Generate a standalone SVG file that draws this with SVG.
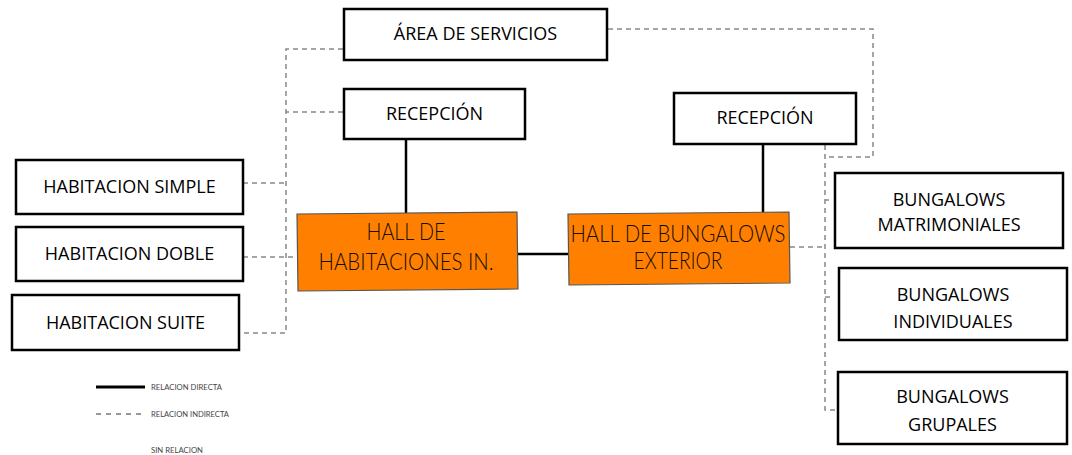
<svg xmlns="http://www.w3.org/2000/svg" width="1072" height="455" viewBox="0 0 1072 455">
<style>
.box{fill:#fff;stroke:#000;stroke-width:2.5}
.hall{fill:#ff8000;stroke:#555;stroke-width:1.2}
.t{font-family:"Open Sans","Liberation Sans",sans-serif;font-size:18px;fill:#000;text-anchor:middle}
.ht{font-family:"Lato","Liberation Sans",sans-serif;font-size:24px;fill:#140c00;text-anchor:middle;font-weight:300}
.solid{stroke:#000;stroke-width:2.5;fill:none}
.dash{stroke:#888;stroke-width:1.5;fill:none;stroke-dasharray:5 4}
.lg{font-family:"Lato","Liberation Sans",sans-serif;font-size:7px;fill:#444}
</style>
<rect width="1072" height="455" fill="#fff"/>
<g id="connectors">
<path class="dash" d="M343,49 H286 V333 H239"/>
<path class="dash" d="M343,112 H286"/>
<path class="dash" d="M243,183 H286"/>
<path class="dash" d="M243,257 H297"/>
<path class="dash" d="M608,29 H873 V157 H825"/>
<path class="dash" d="M825,145 V410 H838"/>
<path class="dash" d="M790,247 H825"/>
<path class="dash" d="M825,200 H829"/>
<path class="dash" d="M825,297 H830"/>
<line class="solid" x1="406" y1="139" x2="406" y2="213"/>
<line class="solid" x1="763" y1="144" x2="763" y2="213"/>
<line class="solid" x1="518" y1="254" x2="568" y2="254"/>
</g>
<g id="area-servicios"><rect class="box" x="344" y="9" width="263" height="51"/><text class="t" x="475.5" y="40">ÁREA DE SERVICIOS</text></g>
<g id="recepcion-1"><rect class="box" x="344" y="89" width="181" height="50"/><text class="t" x="434.5" y="120">RECEPCIÓN</text></g>
<g id="recepcion-2"><rect class="box" x="674" y="93" width="182" height="51"/><text class="t" x="765" y="124">RECEPCIÓN</text></g>
<g id="hab-simple"><rect class="box" x="16" y="160" width="227" height="54"/><text class="t" x="129.5" y="193">HABITACION SIMPLE</text></g>
<g id="hab-doble"><rect class="box" x="16" y="227" width="227" height="54"/><text class="t" x="129.5" y="260">HABITACION DOBLE</text></g>
<g id="hab-suite"><rect class="box" x="12" y="295" width="227" height="55"/><text class="t" x="125.5" y="329">HABITACION SUITE</text></g>
<g id="hall-habitaciones"><path class="hall" d="M297,214 L517,212 L518,289 L298,291 Z"/><text class="ht" x="406" y="240" textLength="79" lengthAdjust="spacingAndGlyphs">HALL DE</text><text class="ht" x="406" y="270" textLength="175" lengthAdjust="spacingAndGlyphs">HABITACIONES IN.</text></g>
<g id="hall-bungalows"><path class="hall" d="M568,214 L789,212 L790,283 L569,285 Z"/><text class="ht" x="678" y="242" textLength="215" lengthAdjust="spacingAndGlyphs">HALL DE BUNGALOWS</text><text class="ht" x="678" y="269" textLength="89" lengthAdjust="spacingAndGlyphs">EXTERIOR</text></g>
<g id="bung-matrimoniales"><rect class="box" x="835" y="173" width="228" height="75"/><text class="t" x="949" y="206">BUNGALOWS</text><text class="t" x="949" y="231">MATRIMONIALES</text></g>
<g id="bung-individuales"><rect class="box" x="839" y="268" width="228" height="72"/><text class="t" x="953" y="301">BUNGALOWS</text><text class="t" x="953" y="328">INDIVIDUALES</text></g>
<g id="bung-grupales"><rect class="box" x="838" y="372" width="229" height="72"/><text class="t" x="952.5" y="403">BUNGALOWS</text><text class="t" x="952.5" y="431">GRUPALES</text></g>
<g id="legend">
<line x1="96" y1="387" x2="145" y2="387" stroke="#000" stroke-width="3"/>
<text class="lg" x="151" y="390" textLength="71" lengthAdjust="spacingAndGlyphs">RELACION DIRECTA</text>
<line x1="96" y1="414" x2="145" y2="414" stroke="#777" stroke-width="1.5" stroke-dasharray="5 5"/>
<text class="lg" x="151" y="417" textLength="78" lengthAdjust="spacingAndGlyphs">RELACION INDIRECTA</text>
<text class="lg" x="151" y="453" textLength="52" lengthAdjust="spacingAndGlyphs">SIN RELACION</text>
</g>
</svg>
